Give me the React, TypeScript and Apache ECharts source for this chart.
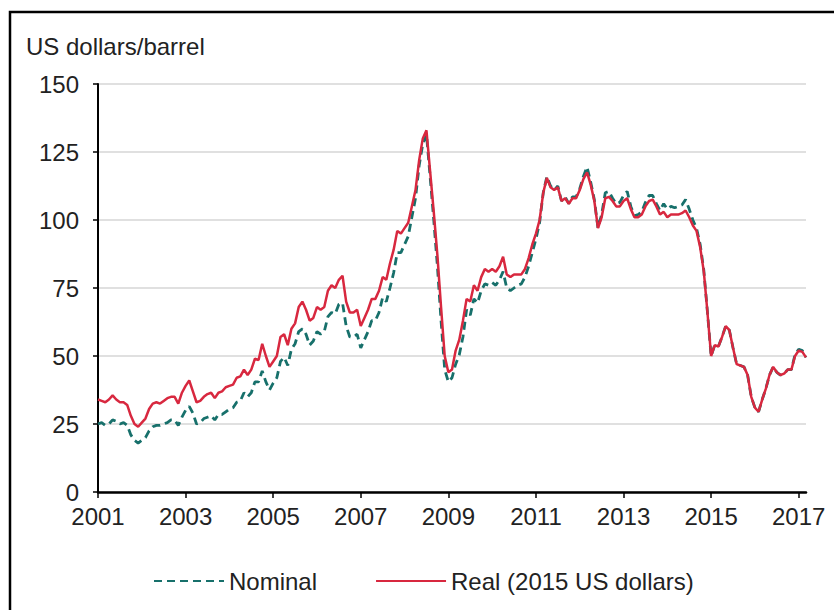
import React, { useEffect, useRef } from "react";
import * as echarts from "echarts";

// Monthly values, Jan 2001 – Mar 2017 (US dollars per barrel)
const startYear = 2001;

const nominalPrice: number[] = [
  25, 25.5, 24.5, 25, 26.5, 26, 25, 25.5, 24.5, 21, 19, 18, // 2001
  19, 20, 22.5, 24, 24.5, 24.5, 25, 25.5, 26.5, 26.5, 24.5, 27.5, // 2002
  30, 31.5, 29, 25, 25.5, 27, 27.5, 28, 26.5, 28.5, 28.5, 29.5, // 2003
  30.5, 31, 33, 33.5, 36.5, 35, 36.5, 40.5, 40.5, 44.5, 40.5, 37.5, // 2004
  40, 42, 48, 49.5, 46.5, 52.5, 54.5, 59, 60, 58, 54, 55.5, // 2005
  59, 58, 59, 64.5, 66, 65.5, 69, 69.5, 61, 57, 57, 58, // 2006
  53, 56, 59, 63, 63, 66, 71.5, 70, 75, 80.5, 88, 88, // 2007
  91, 94, 101, 108, 120, 128, 131.5, 116, 100, 83, 63, 45, // 2008
  40.5, 42, 47, 50.5, 57, 67, 65, 71, 69.5, 74, 76.5, 76, // 2009
  77, 76, 78, 81, 75, 74, 75, 76, 76.5, 79, 83, 88, // 2010
  93, 99, 110, 116, 112.5, 111, 112.5, 107, 108.5, 106, 108.5, 108.5, // 2011
  111.5, 116, 119.5, 114, 107.5, 97, 102, 110, 110.5, 108, 106, 106.5, // 2012
  109, 110.5, 105, 101.5, 102, 103, 106.5, 109, 109, 106, 103.5, 106, // 2013
  104, 105, 104.5, 105, 105.5, 107.5, 104, 100, 97, 91, 81.5, 66, // 2014
  50, 54, 53.5, 57, 61, 59.5, 53, 47, 46.5, 46, 43, 35, // 2015
  31, 29.5, 34, 38, 43, 46, 44, 43, 43.5, 45, 45, 50.5, // 2016
  52.5, 52, 49.5, // 2017
];

const realPrice: number[] = [
  34, 33.5, 33, 34, 35.5, 34, 33, 33, 32, 28, 25, 24, // 2001
  25.5, 27, 30.5, 32.5, 33, 32.5, 33.5, 34.5, 35, 35, 32.5, 36.5, // 2002
  39, 41, 37, 33, 33.5, 35, 36, 36.5, 34.5, 36.5, 37, 38.5, // 2003
  39, 39.5, 42, 42.5, 45, 43, 45, 49, 48.5, 54.5, 50, 46, // 2004
  48, 50, 57, 58, 54, 60, 62, 68, 70, 67, 63, 64, // 2005
  68, 67, 68, 74, 76, 75, 78, 79.5, 70, 66, 66, 67, // 2006
  61, 64, 67, 71, 71, 74, 79, 78, 84, 89, 96, 95, // 2007
  97, 99, 105, 111, 122, 130, 133, 118, 103, 87, 68, 50, // 2008
  44, 45, 52, 56, 63, 71, 70, 76, 74, 79, 82, 81, // 2009
  82, 81, 83, 86.5, 80, 79, 80, 80, 80, 82, 86, 91, // 2010
  95, 100, 110, 115.5, 112, 111, 112, 107, 108, 106, 108, 108, // 2011
  111, 115, 117.5, 113, 107, 97, 101, 108, 108.5, 107, 105, 105, // 2012
  107, 108, 104, 101, 101, 102, 105, 107, 107.5, 105, 102, 103, // 2013
  101, 102, 102, 102, 102.5, 103.5, 101, 98, 96, 90, 81, 66, // 2014
  50, 54, 53.5, 57, 61, 59.5, 53, 47, 46.5, 46, 43, 35, // 2015
  31, 29.5, 34, 38, 43, 46, 44, 43, 43.5, 45, 45, 50, // 2016
  52, 51.5, 49.5, // 2017
];

const monthLabels: string[] = realPrice.map(
  (_, i) => `${startYear + Math.floor(i / 12)}-${String((i % 12) + 1).padStart(2, "0")}`
);

const yTicks = { min: 0, max: 150, interval: 25 };
const seriesNames = ["Nominal", "Real (2015 US dollars)"];
const yTitle = "US dollars/barrel";

const FONT = "'Liberation Sans', Arial, sans-serif";
const TEXT = "#222222";
const NOMINAL_COLOR = "#17706b";
const REAL_COLOR = "#d8283f";

const everyTwoYears = (index: number) => index % 24 === 0;

export default function App() {
  const ref = useRef<HTMLDivElement>(null);

  useEffect(() => {
    if (!ref.current) return;
    const chart = echarts.init(ref.current, undefined, { renderer: "svg" });
    chart.setOption({
      animation: false,
      backgroundColor: "#ffffff",
      textStyle: { fontFamily: FONT },
      title: {
        text: yTitle,
        left: 21,
        top: 29,
        textStyle: { fontFamily: FONT, fontSize: 24, fontWeight: "normal", color: TEXT },
      },
      graphic: [
        {
          type: "rect",
          shape: { x: 10, y: 12, width: 840, height: 620 },
          style: { fill: "none", stroke: "#000000", lineWidth: 2.5 },
          silent: true,
        },
      ],
      legend: {
        data: seriesNames,
        left: 148,
        top: 564,
        itemWidth: 70,
        itemHeight: 14,
        itemGap: 58,
        itemStyle: { opacity: 0 },
        textStyle: { fontFamily: FONT, fontSize: 24, color: TEXT },
      },
      grid: { left: 98, top: 84, width: 708, height: 408, containLabel: false },
      xAxis: {
        type: "category",
        boundaryGap: false,
        data: monthLabels,
        axisLine: { show: true, lineStyle: { color: "#000000", width: 2.5 } },
        axisTick: {
          show: true,
          interval: everyTwoYears,
          length: 6,
          lineStyle: { color: "#000000", width: 1.5 },
        },
        axisLabel: {
          interval: everyTwoYears,
          formatter: (v: string) => v.slice(0, 4),
          fontFamily: FONT,
          fontSize: 24,
          color: TEXT,
          margin: 12,
        },
        splitLine: { show: false },
      },
      yAxis: {
        type: "value",
        min: yTicks.min,
        max: yTicks.max,
        interval: yTicks.interval,
        axisLine: { show: true, lineStyle: { color: "#000000", width: 2 } },
        axisTick: { show: true, length: 5, lineStyle: { color: "#000000", width: 1.5 } },
        axisLabel: { fontFamily: FONT, fontSize: 24, color: TEXT, margin: 19 },
        splitLine: { show: true, lineStyle: { color: "#d6d6d6", width: 1.5 } },
      },
      series: [
        {
          name: seriesNames[0],
          type: "line",
          data: nominalPrice,
          symbol: "none",
          lineStyle: { color: NOMINAL_COLOR, width: 2.8, type: [8, 5] },
          itemStyle: { color: NOMINAL_COLOR },
          z: 2,
        },
        {
          name: seriesNames[1],
          type: "line",
          data: realPrice,
          symbol: "none",
          lineStyle: { color: REAL_COLOR, width: 2.5 },
          itemStyle: { color: REAL_COLOR },
          z: 3,
        },
      ],
    });
    return () => chart.dispose();
  }, []);

  return (
    <div
      ref={ref}
      style={{ position: "fixed", left: 0, top: 0, width: 834, height: 610, background: "#ffffff" }}
    />
  );
}
